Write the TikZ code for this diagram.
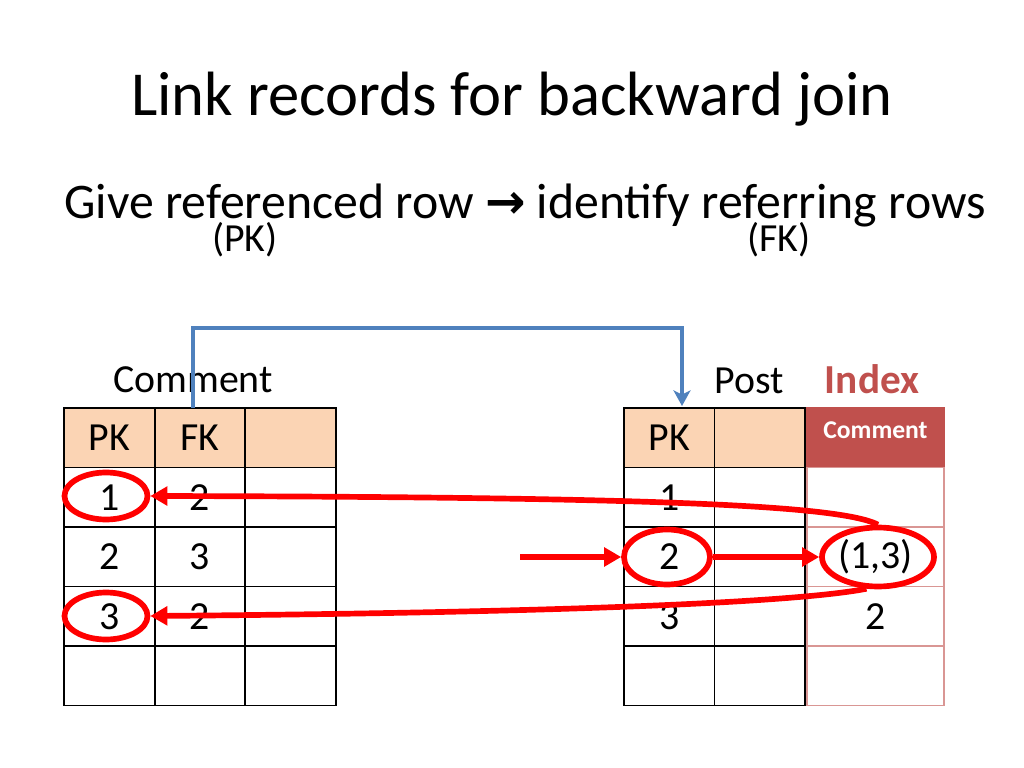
\documentclass[tikz,border=0pt]{standalone}
\usepackage{fontspec}
\setmainfont{Carlito}
\newfontfamily\arrowfont{DejaVu Sans}
\usetikzlibrary{arrows.meta,shapes.geometric}
\def\pxu{0.703125pt}
\definecolor{hdr}{HTML}{FBD4B4}
\definecolor{idxred}{HTML}{C0504D}
\definecolor{idxline}{HTML}{D99694}
\definecolor{blueln}{HTML}{4F81BD}
\definecolor{redln}{HTML}{FF0000}
\begin{document}
\begin{tikzpicture}[x=\pxu,y=-\pxu,
  cell/.style={draw=black,line width=1.2pt,minimum width=#1*\pxu,minimum height=59.5*\pxu,
    inner sep=0pt,outer sep=0pt,font=\fontsize{28}{32}\selectfont},
  cell/.default=90.5,
  hcell/.style={cell=#1,fill=hdr},
  hcell/.default=90.5,
  icell/.style={draw=idxline,line width=0.9pt,minimum width=137*\pxu,minimum height=59.5*\pxu,
    inner sep=0pt,outer sep=0pt,font=\fontsize{28}{32}\selectfont},
  ihead/.style={text=white,font=\fontsize{18}{20}\selectfont\bfseries,anchor=base,inner sep=0pt},
  ring/.style={ellipse,draw=redln,line width=4pt,inner sep=0pt},
  redarr/.style={draw=redln,line width=4pt,-{Triangle[length=12pt,width=13pt]}},
  bluearr/.style={draw=blueln,line width=2.4pt,-{Stealth[length=11pt,width=12pt,inset=3pt]}},
  lbl/.style={anchor=base,font=\fontsize{28}{32}\selectfont}
]
\fill[white] (0,0) rectangle (1024,768);
\useasboundingbox (0,0) rectangle (1024,768);

% titles
\node[anchor=base,font=\fontsize{44}{52}\selectfont] (title) at (512,116) {Link records for backward join};
\node[anchor=base,font=\fontsize{35}{40}\selectfont] (sub) at (525,219) {Give referenced row {\arrowfont\fontsize{34}{38}\selectfont\bfseries →} identify referring rows};
\node[lbl] (pk) at (245,252) {(PK)};
\node[lbl] (fk) at (779,252) {(FK)};

% labels
\node[lbl] (lcomment) at (193,392) {Comment};
\node[lbl] (lpost) at (749,393) {Post};
\node[anchor=base,font=\fontsize{29}{32}\selectfont\bfseries,text=idxred] (lindex) at (872,393) {Index};

% left table (Comment)
\node[hcell=91] (c00) at (109.5,437.75) {PK};
\node[hcell=90] (c01) at (200,437.75) {FK};
\node[hcell=91] (c02) at (290.5,437.75) {};
\node[cell=91] (c10) at (109.5,497.25) {1};
\node[cell=90] (c11) at (200,497.25) {2};
\node[cell=91] (c12) at (290.5,497.25) {};
\node[cell=91] (c20) at (109.5,556.75) {2};
\node[cell=90] (c21) at (200,556.75) {3};
\node[cell=91] (c22) at (290.5,556.75) {};
\node[cell=91] (c30) at (109.5,616.25) {3};
\node[cell=90] (c31) at (200,616.25) {2};
\node[cell=91] (c32) at (290.5,616.25) {};
\node[cell=91] (c40) at (109.5,675.75) {};
\node[cell=90] (c41) at (200,675.75) {};
\node[cell=91] (c42) at (290.5,675.75) {};

% right table (Post)
\node[hcell] (p00) at (669.25,437.75) {PK};
\node[hcell] (p01) at (759.75,437.75) {};
\node[cell] (p10) at (669.25,497.25) {1};
\node[cell] (p11) at (759.75,497.25) {};
\node[cell] (p20) at (669.25,556.75) {2};
\node[cell] (p21) at (759.75,556.75) {};
\node[cell] (p30) at (669.25,616.25) {3};
\node[cell] (p31) at (759.75,616.25) {};
\node[cell] (p40) at (669.25,675.75) {};
\node[cell] (p41) at (759.75,675.75) {};

% index column
\node[icell,fill=idxred,draw=idxred] (i0) at (875.5,437.75) {};
\node[ihead] (i0t) at (875.5,438) {Comment};
\node[icell] (i1) at (875.5,497.25) {};
\node[icell] (i2) at (875.5,556.75) {(1,3)};
\node[icell] (i3) at (875.5,616.25) {2};
\node[icell] (i4) at (875.5,675.75) {};

% blue connector
\coordinate (bstart) at (193,408);
\coordinate (bend) at (682,406);
\coordinate (btop) at (0,328);
\draw[bluearr] (bstart) -- (bstart |- btop) -- (bend |- btop) -- (bend);

% red rings
\node[ring,minimum width=83*\pxu,minimum height=47*\pxu] (e1) at (106,496) {};
\node[ring,minimum width=83*\pxu,minimum height=47*\pxu] (e3) at (106,616) {};
\node[ring,minimum width=86*\pxu,minimum height=55*\pxu] (e2) at (667,557) {};
\node[ring,minimum width=112*\pxu,minimum height=59*\pxu] (e13) at (878,557) {};

% red arrows
\coordinate (rin) at (520,557);
\draw[redarr] (rin) -- (e2.west);
\draw[redarr] (e2.east) -- (e13.west);
\draw[redarr] (e13.north) .. controls (840,505) and (650,497) .. (e1.east);
\draw[redarr] (e13.-110) .. controls (810,600) and (620,612) .. (e3.east);
\end{tikzpicture}
\end{document}
